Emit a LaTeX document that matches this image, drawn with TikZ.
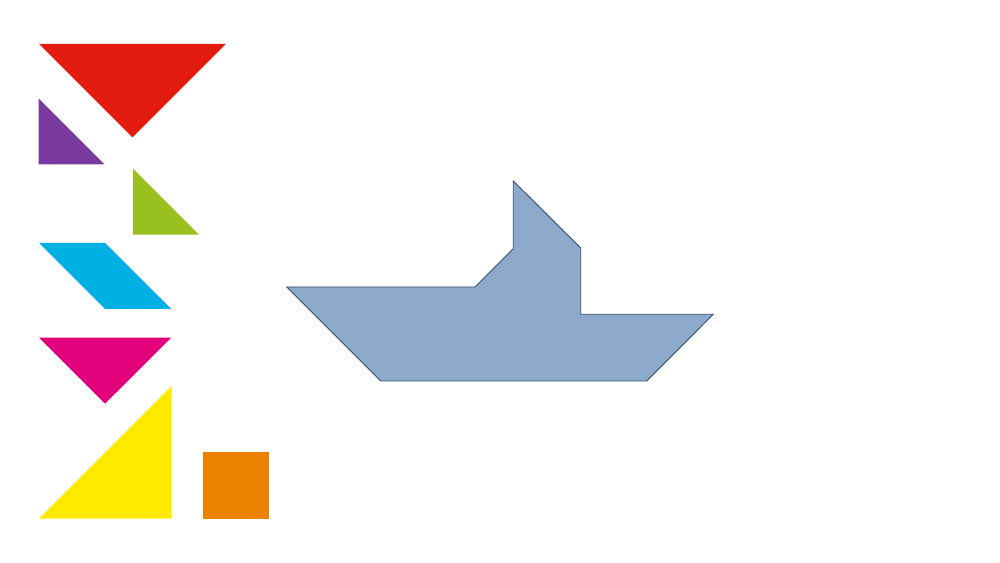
\documentclass[tikz,border=0pt]{standalone}
\usepackage{tikz}
\definecolor{tanred}{RGB}{227,28,15}
\definecolor{tanpurple}{RGB}{121,58,160}
\definecolor{tangreen}{RGB}{151,191,30}
\definecolor{tancyan}{RGB}{0,175,228}
\definecolor{tanmagenta}{RGB}{227,0,125}
\definecolor{tanyellow}{RGB}{255,233,0}
\definecolor{tanorange}{RGB}{237,130,0}
\definecolor{boatfill}{RGB}{141,170,204}
\definecolor{boatline}{RGB}{55,75,105}
\tikzset{
    piece/.style = {draw=none},
    boat/.style = {fill=boatfill, draw=boatline, line width=0.5pt, line join=miter}
    }

\begin{document}
\begin{tikzpicture}[
      x = 0.02cm, y = -0.02cm, % pixel units
      line join = miter
    ]
    \useasboundingbox (0,0) rectangle (1000,563);

    % the seven pieces
    \fill[piece, tanred] (39,44) -- (226,44) -- (132.5,137.5) -- cycle;
    \fill[piece, tanpurple] (38.7,98.5) -- (104.7,164.5) -- (38.7,164.5) -- cycle;
    \fill[piece, tangreen] (133,168.7) -- (199,234.7) -- (133,234.7) -- cycle;
    \fill[piece, tancyan] (39,243) -- (105,243) -- (171.3,309) -- (105,309) -- cycle;
    \fill[piece, tanmagenta] (39,337.7) -- (171.3,337.7) -- (105,403.7) -- cycle;
    \fill[piece, tanyellow] (171.5,386) -- (171.5,518.7) -- (39,518.7) -- cycle;
    \fill[piece, tanorange] (203,452.3) rectangle (269.3,518.7);

    % the boat
    \draw[boat] (286.7,287) -- (475,287) -- (513.3,248.7) -- (513.3,181)
        -- (580.7,248) -- (580.7,314.3) -- (713.3,314.3) -- (646.7,381)
        -- (380.7,381) -- cycle;

\end{tikzpicture}
\end{document}
